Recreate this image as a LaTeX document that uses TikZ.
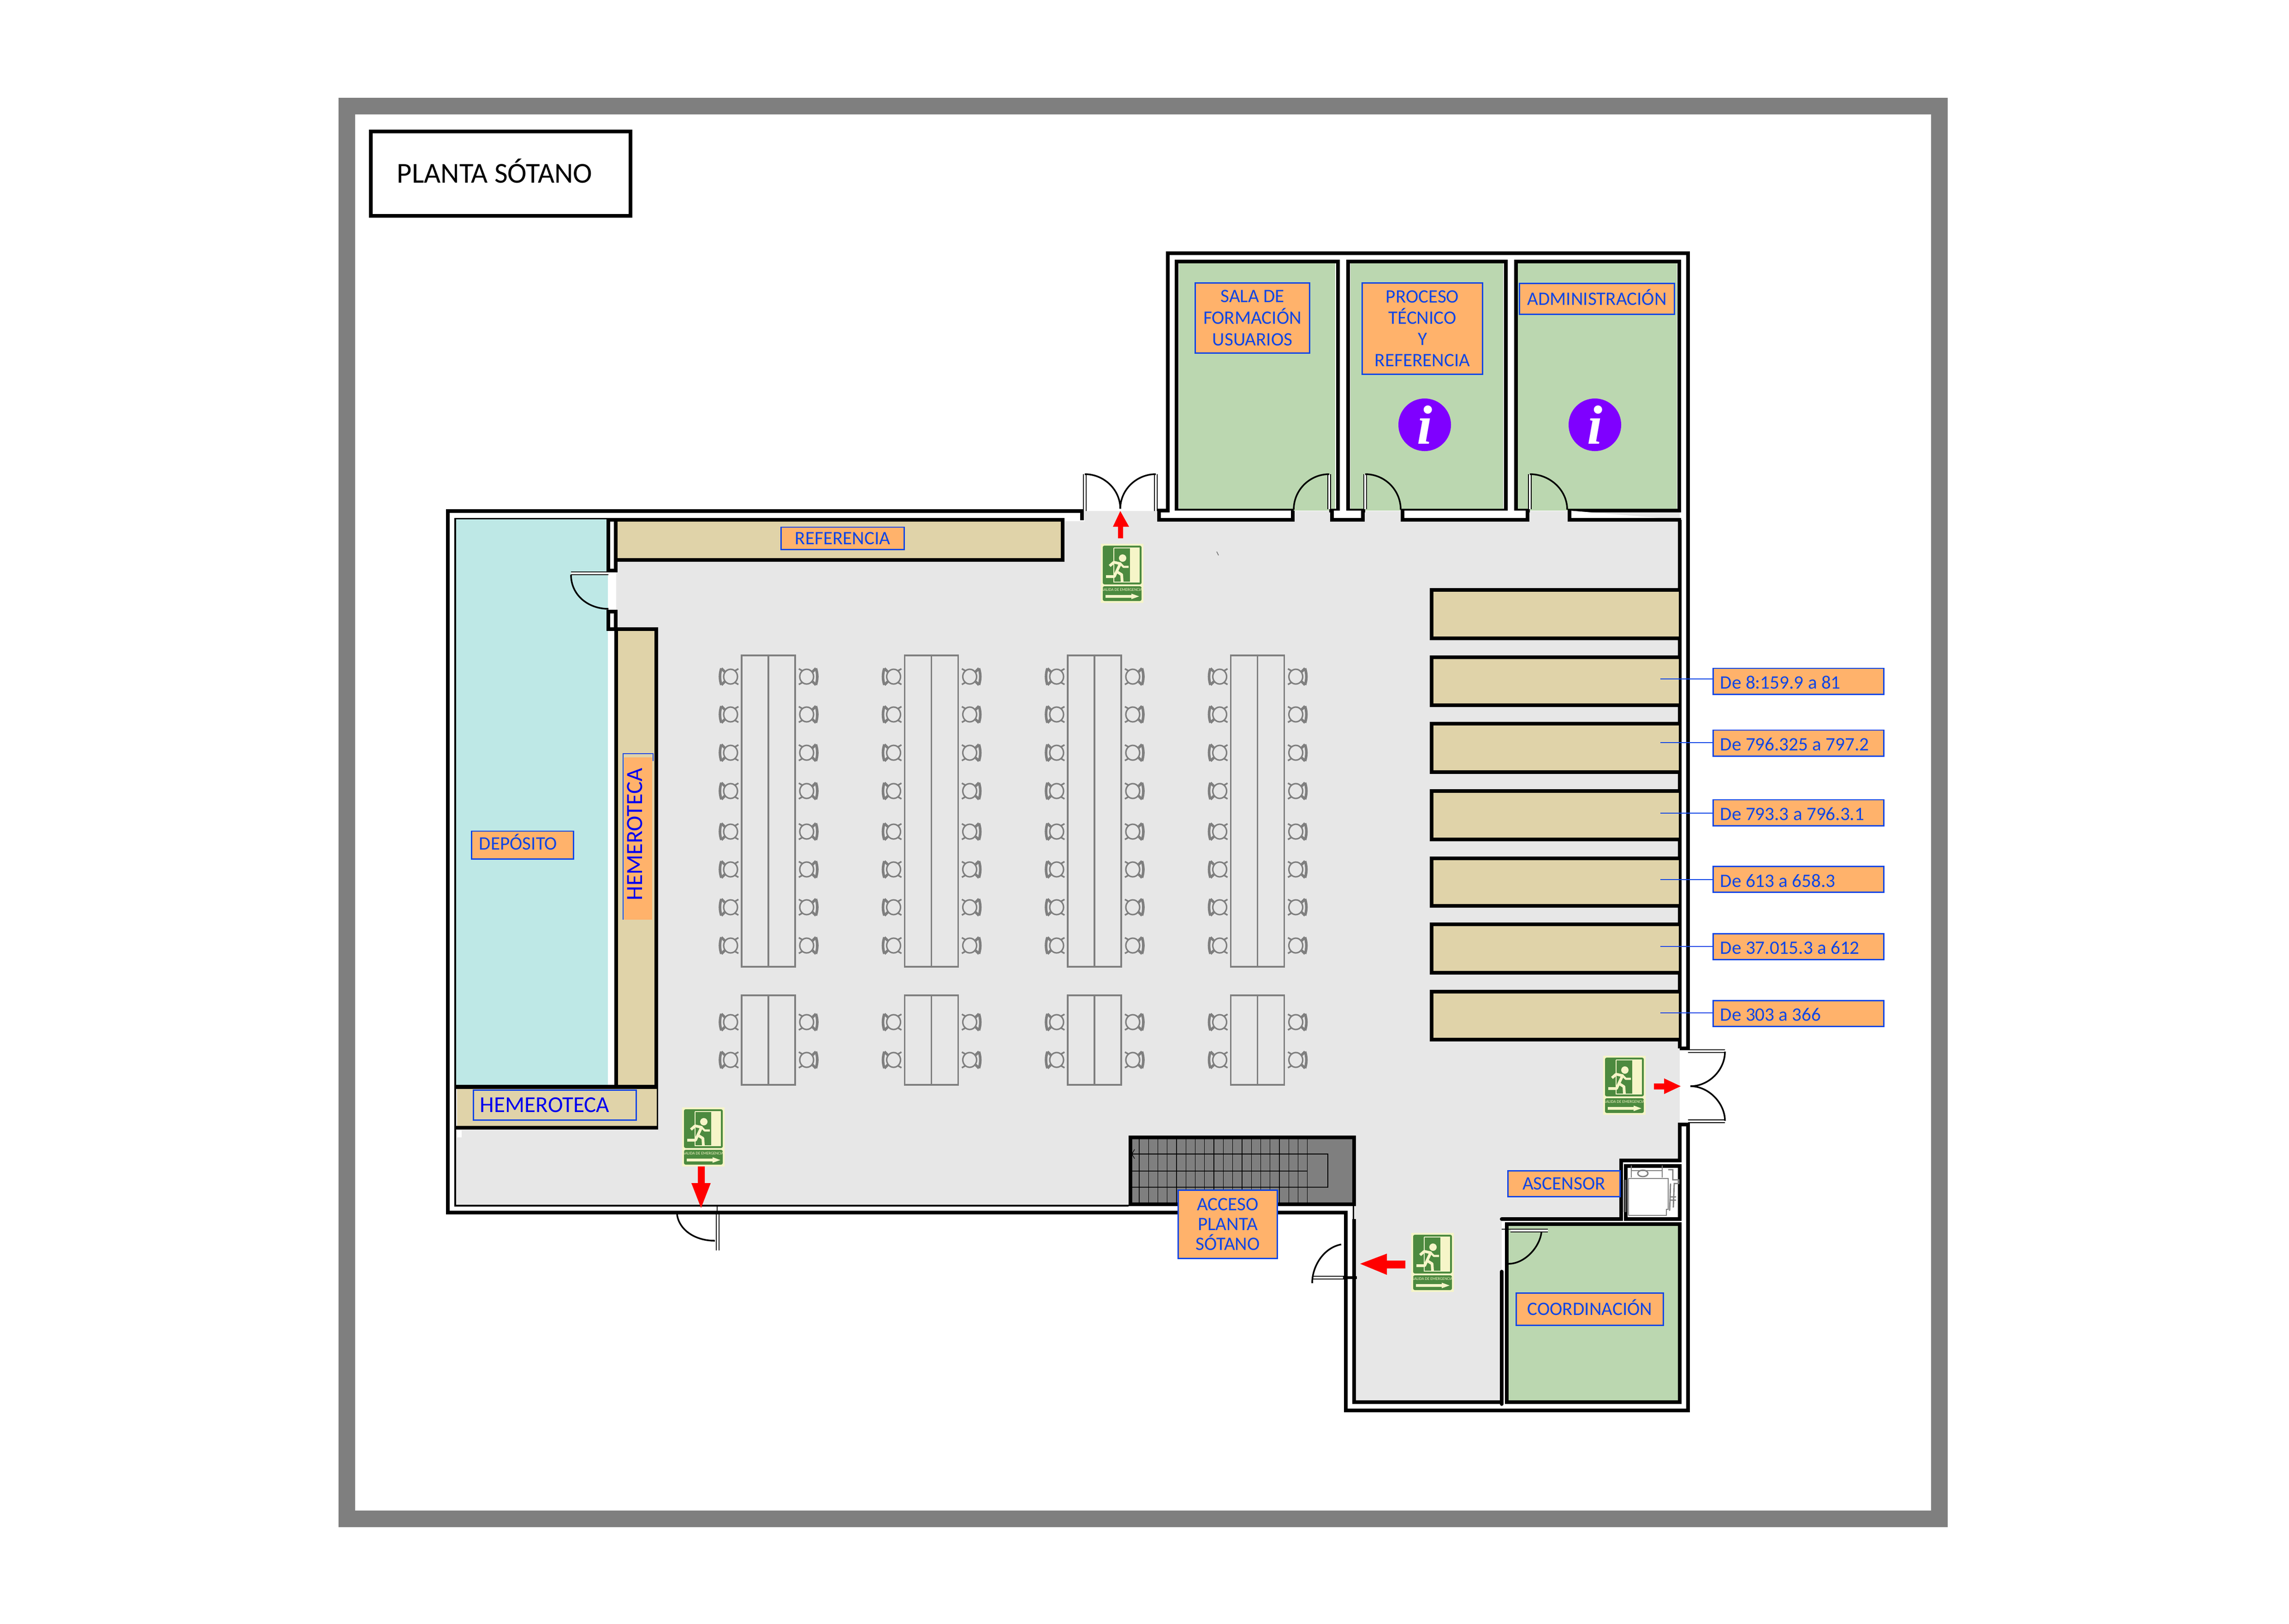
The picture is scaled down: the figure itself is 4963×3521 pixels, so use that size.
\documentclass[tikz,border=0pt]{standalone}
\usepackage{fontspec}
\setmainfont{Carlito}
\newfontfamily\infofont{Liberation Serif}
\usetikzlibrary{positioning, shapes, arrows}

\definecolor{framegray}{HTML}{7F7F7F}
\definecolor{floorgray}{HTML}{E7E7E7}
\definecolor{roomgreen}{HTML}{BBD7B0}
\definecolor{depocyan}{HTML}{BEE8E6}
\definecolor{shelftan}{HTML}{E0D3A9}
\definecolor{lblorange}{HTML}{FFB26B}
\definecolor{lblblue}{HTML}{0F45E6}
\definecolor{darkblue}{HTML}{0000EE}
\definecolor{infopurple}{HTML}{7F00FF}
\definecolor{signgreen}{HTML}{4C8A3F}
\definecolor{signcream}{HTML}{F6F5C8}

\tikzset{
  wall/.style={draw=black, line width=2.4pt, line join=miter},
  thinwall/.style={draw=black, line width=1pt},
  leaf/.style={draw=black, line width=0.55pt, double=white, double distance=1pt},
  doorarc/.style={draw=black, line width=1pt},
  tablebox/.style={draw=framegray, line width=1pt},
  stepline/.style={draw=black, line width=0.35pt},
  lbl/.style={draw=lblblue, fill=lblorange, line width=0.85pt, text=lblblue, align=center, inner sep=0pt, font=\fontsize{11.7}{13.4}\selectfont},
  shelflbl/.style={lbl, align=flush left, inner xsep=0.15cm, text width=3.39cm, minimum width=3.69cm, minimum height=0.56cm, text height=9.5pt, text depth=0pt},
  leader/.style={draw=lblblue, line width=0.8pt},
  infodot/.style={circle, fill=infopurple, text=white, minimum size=1.14cm, inner sep=0pt, font=\infofont\bfseries\itshape\fontsize{34}{34}\selectfont},
  redarrow/.style={fill=red, draw=none},
  elevline/.style={draw=framegray, line width=0.8pt},
  chair/.pic={
    \draw[framegray, line width=0.9pt] (3,0) ellipse (15 and 16);
    \draw[framegray, line width=1.6pt] (-17,-18) .. controls (-21,-6) and (-21,6) .. (-17,18);
    \draw[framegray, line width=1.6pt] (-17,-18) -- (-9,-10) (-17,18) -- (-9,10);
    \draw[framegray, line width=1pt] (13,-13) -- (20,-17) (13,13) -- (20,17);
  },
  exitsign/.pic={
    \fill[signcream] (-46,-64) rectangle (46,64);
    \fill[signgreen, rounded corners=1pt] (-42,-60) rectangle (42,24);
    \fill[signgreen, rounded corners=1pt] (-42,28) rectangle (42,60);
    \fill[signcream] (17,-56) -- (38,-56) -- (38,20) -- (17,20) -- cycle;
    \draw[signcream, line width=0.4pt] (-18,-55) -- (17,-55) (-18,-55) -- (-18,19) -- (17,19);
    \fill[signcream] (1,-33) circle (8);
    \draw[signcream, line width=1.7pt, line join=round] (-27,-16) -- (-18,-24) -- (-4,-21) -- (-12,-4) -- (-1,3) -- (0,19);
    \draw[signcream, line width=1.7pt, line join=round] (-12,-4) -- (-17,7) -- (-35,7);
    \draw[signcream, line width=1.3pt, line join=round] (-4,-21) -- (3,-14) -- (14,-14);
    \node[text=signcream, inner sep=0pt, font=\fontsize{2.5}{3}\selectfont] (signtext) at (0,36) {SALIDA DE EMERGENCIA};
    \fill[signcream] (-36,47) -- (20,47) -- (20,44) -- (37,50) -- (20,56) -- (20,53) -- (-36,53) -- cycle;
  }
}

\begin{document}
\begin{tikzpicture}[x=0.01cm, y=-0.01cm]
\useasboundingbox (0,0) rectangle (4963,3521);
\draw[framegray, line width=10pt] (752,230) rectangle (4205,3293);
\node[draw=black, line width=2.3pt, align=flush left, inner xsep=0.57cm, inner ysep=0pt, text width=4.49cm, minimum height=1.83cm, text depth=3.6pt, font=\fontsize{17.8}{20}\selectfont] (title) at (1085.5,376.5) {PLANTA SÓTANO};

\fill[floorgray] (1336,1130) -- (2352,1130) -- (2352,1108) -- (3642,1108) -- (3642,2516) -- (3515,2516) -- (3515,2643) -- (3256,2643) -- (3256,3040) -- (2936,3040) -- (2936,2612) -- (988,2612) -- (988,2449) -- (1426,2449) -- (1426,1364) -- (1336,1364) -- cycle;
\fill[depocyan] (988,1125) rectangle (1318,2352);
\fill[shelftan] (1339,1130) rectangle (2300,1210);
\fill[shelftan] (1339,1368) rectangle (1419,2352);
\fill[shelftan] (991,2361) rectangle (1424,2441);
\fill[white] (991,2451) rectangle (1001,2466);
\fill[roomgreen] (2556,571) rectangle (2895,1107);
\fill[roomgreen] (2928,571) rectangle (3259,1107);
\fill[roomgreen] (3291,571) rectangle (3636,1107);
\fill[roomgreen] (3272,2657) rectangle (3638,3036);

\draw[wall] (2346,1128) -- (2346,1108) -- (971,1108) -- (971,2629) -- (2918,2629) -- (2918,3058) -- (3660,3058) -- (3660,2438) -- (3642,2438) -- (3642,2516) -- (3515,2516) -- (3515,2643) -- (3300,2643);
\draw[line width=2.3pt, line cap=round] (3256,2643) -- (3320,2643);
\draw[wall] (3642,2273) -- (3660,2273) -- (3660,549) -- (2532,549) -- (2532,1107);
\draw[wall] (3642,1127) -- (3642,2273);
\draw[thinwall] (1315,1124.5) -- (987,1124.5) -- (987,2614) -- (2447,2614);
\draw[wall] (2551,1107) -- (2551,567) -- (2901,567) -- (2901,1107) -- (2882,1107);
\draw[wall] (2805,1107) -- (2551,1107);
\draw[wall] (2960,1107) -- (2923,1107) -- (2923,567) -- (3265,567) -- (3265,1107) -- (3037,1107);
\draw[wall] (3317,1107) -- (3287,1107) -- (3287,567) -- (3641,567) -- (3641,1107) -- (3399,1107);
\draw[wall, fill=white] (2513,1107) -- (2513,1127) -- (2803,1127) -- (2803,1107);
\draw[wall] (2509,1107) -- (2536,1107);
\draw[wall, fill=white] (2888,1107) -- (2888,1127) -- (2955,1127) -- (2955,1107);
\draw[wall, fill=white] (3041,1107) -- (3041,1127) -- (3312,1127) -- (3312,1107);
\draw[wall, fill=white] (3403,1107) -- (3403,1127) -- (3645,1127);

\draw[wall] (1339,1127) -- (2304,1127) -- (2304,1214) -- (1339,1214);
\draw[wall, fill=white] (1319,1127) rectangle (1335,1237);
\draw[wall, fill=white] (1319,1326) rectangle (1335,1364);
\draw[wall] (1336,2352) -- (1336,1364) -- (1423,1364) -- (1423,2352);
\draw[wall] (987,2356.5) -- (1426,2356.5);
\draw[wall] (987,2445) -- (1426,2445);
\draw[thinwall] (1425.5,2352) -- (1425.5,2449);

\foreach \ya/\yb in {1279/1384, 1425/1529, 1569/1674, 1715/1820, 1861/1964, 2004/2109, 2150/2254}
  \draw[wall, fill=shelftan] (3640,\ya) -- (3104,\ya) -- (3104,\yb) -- (3640,\yb);

\draw[wall] (3642,2516) -- (3515,2516);
\draw[wall, fill=white] (3525,2528) rectangle (3642,2643);
\draw[wall, fill=roomgreen] (3267,2654) rectangle (3642,3040);
\draw[line width=2.3pt, line cap=round] (3256,2757) -- (3256,3044);
\draw[wall] (2936,2643) -- (2936,3040) -- (3256,3040);
\draw[line width=0.6pt] (2934.5,2614) -- (2934.5,2643);

\draw[elevline, fill=white] (3531,2555) -- (3617,2555) -- (3617,2622) -- (3613,2622) -- (3613,2635) -- (3531,2635) -- cycle;
\draw[elevline] (3537,2527) -- (3537,2553) (3604,2527) -- (3604,2553) (3537,2538) -- (3604,2538);
\draw[elevline] (3562,2544) ellipse (11 and 7);
\draw[elevline] (3617,2536) -- (3627,2536) -- (3627,2558) -- (3640,2558) -- (3640,2566) -- (3630,2566) -- (3628,2618) (3621,2595) -- (3634,2595) (3621,2602) -- (3634,2602) (3622,2566) -- (3620,2625);
\draw[elevline] (3521,2558) -- (3521,2628) (3525,2558) -- (3525,2628);

\draw[wall, fill=framegray] (2451,2466) rectangle (2936,2611);
\foreach \sx in {0,...,18}
  \draw[stepline] ({2470+20.26*\sx},2470) -- ({2470+20.26*\sx},2607);
\draw[stepline] (2454,2574) -- (2879,2574) -- (2879,2502) -- (2454,2502);
\draw[stepline] (2454,2539) -- (2834,2539);
\draw[stepline] (2460,2492) -- (2454,2502) -- (2460,2512);
\draw[framegray, line width=0.5pt] (2638,1196) -- (2642,1204);

\draw[leaf] (2352,1028) -- (2352,1108);
\draw[leaf] (2506,1028) -- (2506,1108);
\draw[doorarc] (2352,1028) .. controls (2394,1028) and (2429,1062) .. (2429,1103);
\draw[doorarc] (2506,1028) .. controls (2464,1028) and (2429,1062) .. (2429,1103);
\draw[leaf] (2882,1028) -- (2882,1104);
\draw[doorarc] (2882,1028) .. controls (2840,1028) and (2805,1062) .. (2805,1105);
\draw[leaf] (2960,1028) -- (2960,1104);
\draw[doorarc] (2960,1028) .. controls (3002,1028) and (3037,1062) .. (3037,1105);
\draw[leaf] (3317,1028) -- (3317,1104);
\draw[doorarc] (3317,1028) .. controls (3360,1028) and (3398,1062) .. (3398,1105);
\draw[leaf] (1238,1243) -- (1319,1243);
\draw[doorarc] (1238,1246) .. controls (1238,1290) and (1275,1320) .. (1319,1320);
\draw[leaf] (1556,2633) -- (1556,2711);
\draw[line width=0.6pt] (1555,2615) -- (1555,2633);
\draw[doorarc] (1468,2633) .. controls (1472,2665) and (1505,2690) .. (1550,2690);
\draw[leaf] (2845,2770) -- (2914,2770);
\draw[line width=1.6pt] (2912,2770) -- (2942,2770);
\draw[doorarc] (2908,2698) .. controls (2870,2705) and (2845,2745) .. (2845,2782);
\draw[leaf] (3660,2279) -- (3740,2279);
\draw[doorarc] (3740,2280) .. controls (3740,2320) and (3705,2355) .. (3665,2355);
\draw[leaf] (3660,2431) -- (3740,2431);
\draw[doorarc] (3740,2430) .. controls (3740,2392) and (3705,2355) .. (3665,2355);
\draw[leaf] (3275,2668) -- (3356,2668);
\draw[line width=0.8pt] (3256,2665) -- (3275,2665);
\draw[doorarc] (3342,2672) .. controls (3338,2705) and (3305,2740) .. (3271,2740);

\foreach \cx in {0,1,2,3} {
  \pgfmathsetmacro\tx{1608+353.5*\cx}
  \draw[tablebox] (\tx,1421) rectangle (\tx+116,2096);
  \draw[tablebox] (\tx+58,1421) -- (\tx+58,2096);
  \draw[tablebox] (\tx,2158) rectangle (\tx+116,2352);
  \draw[tablebox] (\tx+58,2158) -- (\tx+58,2352);
  \foreach \ry in {1467,1549,1632,1715,1803,1885,1967,2050,2216,2298} {
    \pic at (\tx-27,\ry) {chair};
    \pic[xscale=-1] at (\tx+144,\ry) {chair};
  }
}

\pic at (2433,1243) {exitsign};
\pic at (1525,2465) {exitsign};
\pic at (3522,2353) {exitsign};
\pic at (3106,2737) {exitsign};
\fill[redarrow] (2429,1108) -- (2448,1142) -- (2435,1142) -- (2435,1167) -- (2424,1167) -- (2424,1142) -- (2413,1142) -- cycle;
\fill[redarrow] (1520,2619) -- (1541,2565) -- (1528,2565) -- (1528,2529) -- (1513,2529) -- (1513,2565) -- (1499,2565) -- cycle;
\fill[redarrow] (3644,2355) -- (3608,2372) -- (3608,2362) -- (3586,2362) -- (3586,2349) -- (3608,2349) -- (3608,2338) -- cycle;
\fill[redarrow] (2949,2740) -- (3007,2718) -- (3007,2733) -- (3047,2733) -- (3047,2750) -- (3007,2750) -- (3007,2764) -- cycle;

\node[lbl, minimum width=2.47cm, minimum height=1.51cm] (sala) at (2715.5,689.5) {SALA DE\\FORMACIÓN\\USUARIOS};
\node[lbl, minimum width=2.6cm, minimum height=1.97cm, font=\fontsize{11.7}{13.1}\selectfont] (proceso) at (3084,712.5) {PROCESO\\TÉCNICO\\Y\\REFERENCIA};
\node[lbl, minimum width=3.35cm, minimum height=0.66cm, text depth=2pt] (admin) at (3462.5,648) {ADMINISTRACIÓN};
\node[infodot] (info1) at (3089,921) {i};
\node[infodot] (info2) at (3458,921) {i};
\node[lbl, minimum width=2.67cm, minimum height=0.48cm] (referencia) at (1827,1167) {REFERENCIA};
\node[lbl, align=flush left, inner xsep=0.16cm, text width=1.88cm, minimum width=2.2cm, minimum height=0.6cm, text depth=3.6pt] (deposito) at (1133,1832) {DEPÓSITO};
\fill[lblorange] (1353,1642) rectangle (1414,1994);
\draw[draw=lblblue, line width=0.7pt] (1351,1994) -- (1351,1634) -- (1416,1634) -- (1416,1650);
\node[text=darkblue, rotate=90, inner sep=0pt, font=\fontsize{14.3}{15}\selectfont] (hemerov) at (1376,1809) {HEMEROTECA};
\node[draw=lblblue, line width=0.85pt, text=darkblue, align=flush left, inner xsep=0.14cm, inner ysep=0pt, text width=3.24cm, minimum height=0.65cm, font=\fontsize{14}{15}\selectfont] (hemeroh) at (1203,2395.5) {HEMEROTECA};
\node[lbl, minimum width=2.14cm, minimum height=1.47cm, font=\fontsize{11.7}{12.2}\selectfont] (acceso) at (2662,2654.5) {ACCESO\\PLANTA\\SÓTANO};
\node[lbl, minimum width=2.42cm, minimum height=0.56cm] (ascensor) at (3391,2566) {ASCENSOR};
\node[lbl, minimum width=3.18cm, minimum height=0.7cm, text depth=2pt] (coordinacion) at (3447,2838) {COORDINACIÓN};

\foreach \i/\yc/\yl/\txt in {1/1477/1472/De 8:159.9 a 81, 2/1611/1610/De 796.325 a 797.2, 3/1762/1763/De 793.3 a 796.3.1, 4/1906.5/1907/De 613 a 658.3, 5/2052/2052/De 37.015.3 a 612, 6/2197/2196/De 303 a 366} {
  \node[shelflbl] (call\i) at (3899.5,\yc) {\txt};
  \coordinate (tick\i) at (3600,\yl);
  \draw[leader] (tick\i) -- (tick\i -| call\i.west);
}
\end{tikzpicture}
\end{document}
